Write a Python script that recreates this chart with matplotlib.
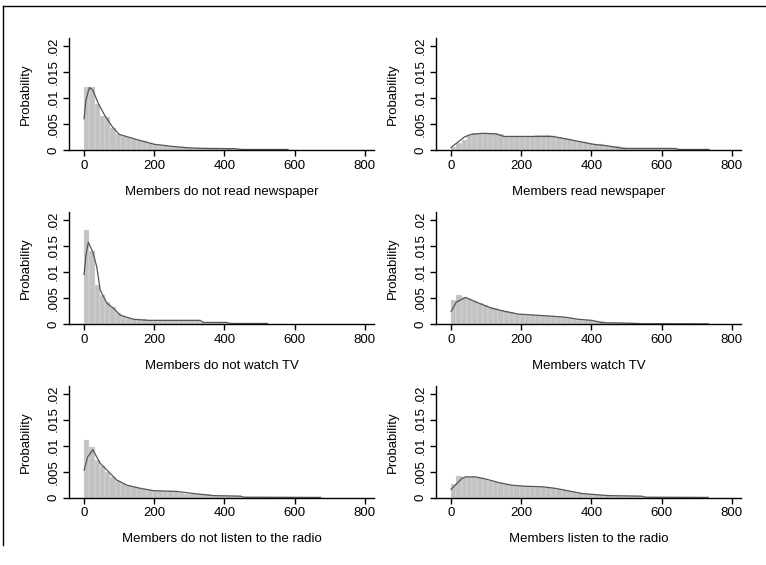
import matplotlib
matplotlib.use("Agg")
import matplotlib.pyplot as plt
import numpy as np
from matplotlib.lines import Line2D

plt.rcParams['font.family'] = ['Liberation Sans', 'DejaVu Sans']

BIN_WIDTH = 15

labels = [
    "Members do not read newspaper", "Members read newspaper",
    "Members do not watch TV", "Members watch TV",
    "Members do not listen to the radio", "Members listen to the radio",
]

# histogram bar heights (bins of 15 starting at 0)
h_no_news = [.012, .012, .0088, .0066, .0064, .0042, .003, .0027, .0024, .0021,
             .0019, .0017, .0013, .0011, .001, .0009, .0007, .0006, .0006, .0005,
             .0003, .0003, .0003, .0003, .0003, .0003, .0003, .0003, .0002,
             .0001, .0001, .0001, .0001, .0001, .0001, .0001, .0001, .0001, .0001]
h_news = [.0005, .0013, .002, .0028, .0033, .0033, .0033, .0033, .0032, .003,
          .0026, .0026, .0026, .0026, .0026, .0026, .0028, .0028, .0028, .0027,
          .0025, .0023, .0021, .0018, .0016, .0015, .0013, .0011, .0011, .0008,
          .0007, .0007, .0005, .0003, .0003, .0003, .0003, .0003, .0003, .0003,
          .0003, .0003, .0001, .0001, .0001, .0001, .0001, .0001, .0001]
h_no_tv = [.0181, .014, .0075, .0055, .0042, .0032, .0022, .0016, .0012, .0009,
           .0009, .0009, .0007, .0007, .0007, .0007, .0007, .0007, .0007, .0007,
           .0007, .0007, .0003, .0003, .0003, .0003, .0003, .0001, .0001, .0001,
           .0001, .0001, .0001, .0001, .0001]
h_tv = [.0046, .0055, .0051, .0048, .0044, .004, .0036, .0032, .003, .0027,
        .0024, .0023, .002, .0019, .0018, .0018, .0017, .0016, .0016, .0015,
        .0014, .0013, .0012, .0009, .0008, .0007, .0007, .0006, .0005, .0002,
        .0002, .0002, .0002, .0002, .0002, .0002, .00005, .00005, .00005, .00005,
        .00005, .00005, .00005, .00005, .00005, .00005, .00005, .00005, .00005]
h_no_radio = [.011, .0097, .0072, .006, .005, .004, .0032, .0026, .0022, .002,
              .0018, .0016, .0014, .0013, .0012, .0012, .0012, .0012, .0009, .0008,
              .0008, .0008, .0008, .0008, .0004, .0004, .0004, .0004, .0004, .0004,
              .00005, .00005, .00005, .00005, .00005, .00005, .00005, .00005, .00005,
              .00005, .00005, .00005, .00005, .00005, .00005]
h_radio = [.0026, .0042, .004, .004, .004, .0038, .0036, .0033, .003, .0029,
           .0027, .0024, .0023, .0022, .0022, .0021, .0021, .002, .002, .0019,
           .0017, .0015, .0013, .0011, .0009, .0008, .0007, .0006, .0005, .0005,
           .0003, .0003, .0003, .0003, .0003, .0003, .00005, .00005, .00005, .00005,
           .00005, .00005, .00005, .00005, .00005, .00005, .00005, .00005, .00005]

# kernel density lines (x, density)
kx_no_news = [0, 5, 15, 25, 40, 60, 80, 100, 120, 150, 200, 250, 300, 350, 430, 450, 580]
ky_no_news = [.006, .0095, .012, .0115, .009, .0065, .0045, .003, .0026, .002, .0011,
              .0007, .0004, .0003, .00025, .0001, .0001]
kx_news = [0, 38, 57, 90, 128, 150, 240, 290, 330, 375, 405, 445, 490, 637, 650, 735]
ky_news = [.0005, .0025, .003, .0032, .0031, .0026, .0026, .0026, .0021, .0015, .0011,
           .0008, .0003, .0003, .0001, .0001]
kx_no_tv = [0, 5, 12, 25, 36, 46, 65, 84, 103, 122, 141, 184, 331, 340, 407, 415, 522]
ky_no_tv = [.0095, .013, .0157, .0138, .011, .0065, .004, .003, .0017, .0013, .0009,
            .0007, .0007, .0003, .0003, .0001, .0001]
kx_tv = [0, 15, 41, 79, 117, 155, 192, 240, 287, 325, 363, 401, 430, 477, 515, 543, 733]
ky_tv = [.0024, .0042, .0051, .004, .003, .0024, .0019, .0017, .0015, .0013, .0009,
         .0007, .00025, .0002, .00013, .00006, .00003]
kx_no_radio = [0, 10, 25, 46, 65, 93, 122, 160, 198, 265, 312, 369, 446, 455, 674]
ky_no_radio = [.0053, .0078, .0092, .0066, .0053, .0034, .0024, .0018, .00135, .0012,
               .0008, .0004, .0003, .0001, .00005]
kx_radio = [0, 31, 41, 69, 98, 136, 173, 211, 259, 297, 335, 373, 410, 448, 543, 553, 733]
ky_radio = [.0016, .0037, .004, .004, .0036, .0029, .0024, .0022, .0021, .0018, .0013,
            .0008, .0006, .0004, .0003, .0001, .00005]

heights = [h_no_news, h_news, h_no_tv, h_tv, h_no_radio, h_radio]
kdes = [(kx_no_news, ky_no_news), (kx_news, ky_news), (kx_no_tv, ky_no_tv),
        (kx_tv, ky_tv), (kx_no_radio, ky_no_radio), (kx_radio, ky_radio)]

y_ticks = [0, .005, .01, .015, .02]
y_ticklabels = ["0", ".005", ".01", ".015", ".02"]
x_ticks = [0, 200, 400, 600, 800]

W, H = 766, 565
fig = plt.figure(figsize=(W / 100, H / 100), dpi=100)

lefts = [69, 436]
bottoms = [150, 324, 497.7]
ax_w = 305
ax_h = 112

FS = 9.5
for i in range(6):
    r, c = divmod(i, 2)
    l = lefts[c]
    b = bottoms[r]
    ax = fig.add_axes([l / W, 1 - b / H, ax_w / W, ax_h / H])
    hts = heights[i]
    lefts_x = np.arange(len(hts)) * BIN_WIDTH
    ax.bar(lefts_x, hts, width=BIN_WIDTH, align='edge', color='#c2c2c2',
           edgecolor='#e6e6e6', linewidth=0.25)
    kx, ky = kdes[i]
    ax.plot(kx, ky, color='#555555', lw=0.9)
    ax.set_xlim(-43, 826)
    ax.set_ylim(0, 0.0215)
    for s in ['top', 'right']:
        ax.spines[s].set_visible(False)
    for s in ['left', 'bottom']:
        ax.spines[s].set_linewidth(1.0)
        ax.spines[s].set_color('black')
    ax.set_xticks(x_ticks)
    ax.set_xticklabels([str(t) for t in x_ticks])
    ax.set_yticks(y_ticks)
    ax.set_yticklabels(y_ticklabels, rotation=90, va='center')
    ax.tick_params(direction='out', length=4, width=1, labelsize=FS, pad=3, colors='black')
    ax.set_xlabel(labels[i], fontsize=FS, labelpad=10)
    ax.set_ylabel("Probability", fontsize=FS, labelpad=11)

# outer frame lines (top and left)
fig.add_artist(Line2D([3 / W, 1], [1 - 6 / H, 1 - 6 / H], color='black', lw=1.0,
                      transform=fig.transFigure))
fig.add_artist(Line2D([3 / W, 3 / W], [1 - 6 / H, 1 - 545 / H], color='black', lw=1.0,
                      transform=fig.transFigure))

fig.savefig("out.png", dpi=100)
